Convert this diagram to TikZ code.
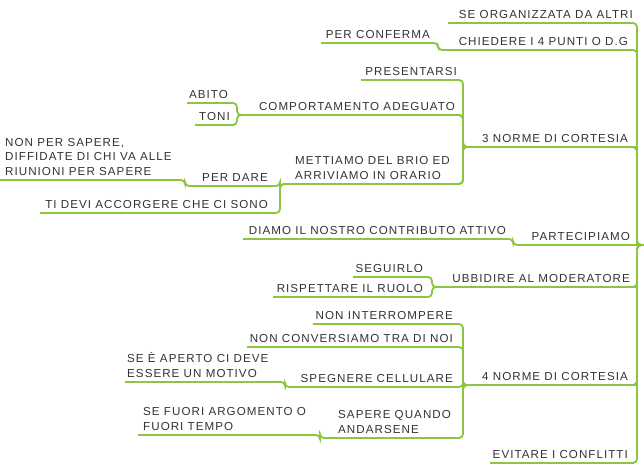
\documentclass[tikz,border=0pt]{standalone}
\usepackage{fontspec}
\newfontfamily\lbfont[LetterSpace=9]{Liberation Sans}
\definecolor{grn}{HTML}{8CC63E}
\definecolor{txt}{HTML}{333333}
\begin{document}
\begin{tikzpicture}[x=1pt,y=-1pt,
  lbl/.style={inner sep=0pt, align=left, text depth=0pt, text=txt,
    font=\lbfont\fontsize{11.6}{14.5}\selectfont},
  lr/.style={lbl, anchor=south east},
  ll/.style={lbl, anchor=south west},
  ln/.style={draw=grn, line width=1.8pt, rounded corners=4pt}]
\useasboundingbox (0,0) rectangle (644,470);
% junction coordinates (left end l, right end r of each underline)
\coordinate (trunk) at (637,245);
\coordinate (root) at (644,245);
\coordinate (se-l) at (448,23);  \coordinate (se-r) at (637,23);
\coordinate (ch-l) at (438,50);  \coordinate (ch-r) at (637,50);
\coordinate (pc-l) at (321,43);  \coordinate (pc-r) at (438,43);
\coordinate (n3-l) at (463,147); \coordinate (n3-r) at (637,147);
\coordinate (pr-l) at (361,80);  \coordinate (pr-r) at (463,80);
\coordinate (co-l) at (237,115); \coordinate (co-r) at (463,115);
\coordinate (ab-l) at (187,103); \coordinate (ab-r) at (237,103);
\coordinate (to-l) at (195,125); \coordinate (to-r) at (237,125);
\coordinate (me-l) at (280,184); \coordinate (me-r) at (463,184);
\coordinate (pd-l) at (185,186); \coordinate (pd-r) at (280,186);
\coordinate (ns-l) at (0,180);   \coordinate (ns-r) at (185,180);
\coordinate (td-l) at (40,213);  \coordinate (td-r) at (280,213);
\coordinate (pa-l) at (513,245); \coordinate (pa-r) at (637,245);
\coordinate (di-l) at (243,239); \coordinate (di-r) at (513,239);
\coordinate (ub-l) at (432,287); \coordinate (ub-r) at (637,287);
\coordinate (sg-l) at (353,277); \coordinate (sg-r) at (432,277);
\coordinate (ri-l) at (273,297); \coordinate (ri-r) at (432,297);
\coordinate (n4-l) at (463,385); \coordinate (n4-r) at (637,385);
\coordinate (ni-l) at (313,324); \coordinate (ni-r) at (463,324);
\coordinate (nc-l) at (247,347); \coordinate (nc-r) at (463,347);
\coordinate (sp-l) at (285,387); \coordinate (sp-r) at (463,387);
\coordinate (sa-l) at (125,382); \coordinate (sa-r) at (285,382);
\coordinate (sq-l) at (320,438); \coordinate (sq-r) at (463,438);
\coordinate (sf-l) at (138,435); \coordinate (sf-r) at (320,435);
\coordinate (ev-l) at (490,463); \coordinate (ev-r) at (637,463);
% connectors
\draw[ln] (se-l) -- (se-r) -- (trunk) -- (root);
\draw[ln] (pc-l) -- (pc-r) -- (ch-l) -- (ch-r) -- (trunk) -- (root);
\draw[ln] (pr-l) -- (pr-r) -- (n3-l) -- (n3-r) -- (trunk) -- (root);
\draw[ln] (ab-l) -- (ab-r) -- (co-l) -- (co-r) -- (n3-l) -- (n3-r) -- (trunk);
\draw[ln] (to-l) -- (to-r) -- (co-l) -- (co-r) -- (n3-l);
\draw[ln] (ns-l) -- (ns-r) -- (pd-l) -- (pd-r) -- (me-l) -- (me-r) -- (n3-l) -- (n3-r);
\draw[ln] (td-l) -- (td-r) -- (me-l) -- (me-r) -- (n3-l);
\draw[ln] (di-l) -- (di-r) -- (pa-l) -- (pa-r) -- (root);
\draw[ln] (sg-l) -- (sg-r) -- (ub-l) -- (ub-r) -- (trunk) -- (root);
\draw[ln] (ri-l) -- (ri-r) -- (ub-l) -- (ub-r);
\draw[ln] (ni-l) -- (ni-r) -- (n4-l) -- (n4-r) -- (trunk) -- (root);
\draw[ln] (nc-l) -- (nc-r) -- (n4-l);
\draw[ln] (sa-l) -- (sa-r) -- (sp-l) -- (sp-r) -- (n4-l) -- (n4-r);
\draw[ln] (sf-l) -- (sf-r) -- (sq-l) -- (sq-r) -- (n4-l) -- (n4-r);
\draw[ln] (ev-l) -- (ev-r) -- (trunk) -- (root);
% labels
\node[lr] (se) at (633,18.5) {SE ORGANIZZATA DA ALTRI};
\node[lr] (ch) at (628,45.5) {CHIEDERE I 4 PUNTI O D.G};
\node[lr] (pc) at (430,38.5) {PER CONFERMA};
\node[lr] (n3) at (628,142.5) {3 NORME DI CORTESIA};
\node[lr] (pr) at (457,75.5) {PRESENTARSI};
\node[lr] (co) at (455,110.5) {COMPORTAMENTO ADEGUATO};
\node[lr] (ab) at (228,98.5) {ABITO};
\node[lr] (to) at (230,120.5) {TONI};
\node[ll] (me) at (295,179.5) {METTIAMO DEL BRIO ED\\ARRIVIAMO IN ORARIO};
\node[lr] (pd) at (268,181.5) {PER DARE};
\node[ll] (ns) at (5,175.5) {NON PER SAPERE,\\DIFFIDATE DI CHI VA ALLE\\RIUNIONI PER SAPERE};
\node[lr] (td) at (268,208.5) {TI DEVI ACCORGERE CHE CI SONO};
\node[lr] (pa) at (630,240.5) {PARTECIPIAMO};
\node[lr] (di) at (506,234.5) {DIAMO IL NOSTRO CONTRIBUTO ATTIVO};
\node[lr] (ub) at (630,282.5) {UBBIDIRE AL MODERATORE};
\node[lr] (sg) at (423,272.5) {SEGUIRLO};
\node[lr] (ri) at (423,292.5) {RISPETTARE IL RUOLO};
\node[lr] (n4) at (628,380.5) {4 NORME DI CORTESIA};
\node[lr] (ni) at (453,319.5) {NON INTERROMPERE};
\node[lr] (nc) at (453,342.5) {NON CONVERSIAMO TRA DI NOI};
\node[lr] (sp) at (453,382.5) {SPEGNERE CELLULARE};
\node[ll] (sa) at (127,377.5) {SE È APERTO CI DEVE\\ESSERE UN MOTIVO};
\node[ll] (sq) at (338,433.5) {SAPERE QUANDO\\ANDARSENE};
\node[ll] (sf) at (143,430.5) {SE FUORI ARGOMENTO O\\FUORI TEMPO};
\node[lr] (ev) at (628,458.5) {EVITARE I CONFLITTI};
\end{tikzpicture}
\end{document}
